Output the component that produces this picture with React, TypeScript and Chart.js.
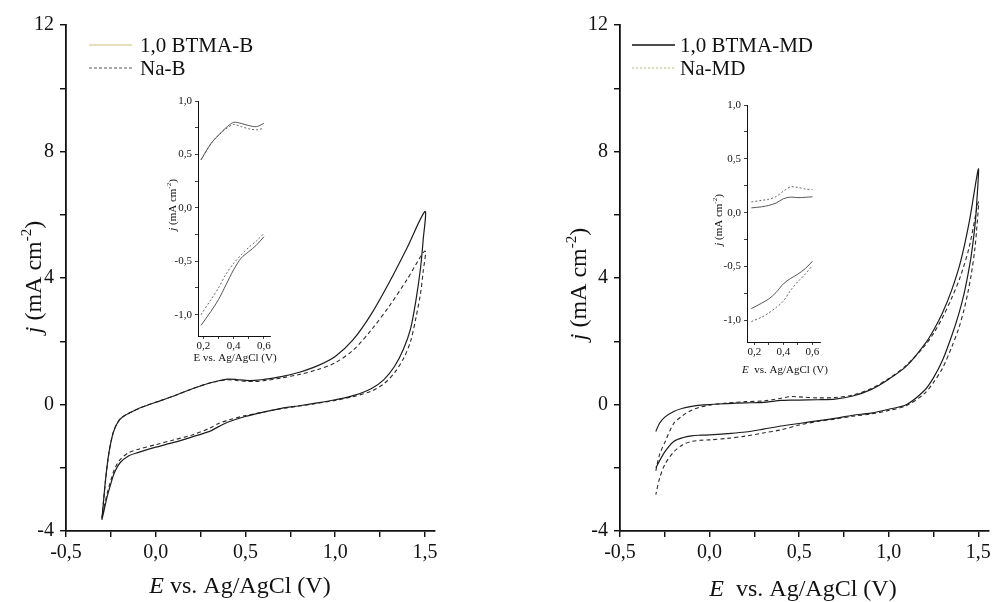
import { useEffect, useRef } from 'react';
import { Chart, registerables } from 'chart.js';

Chart.register(...registerables);

const FONT = '"Liberation Serif", "Times New Roman", serif';

// ---------- Left panel: B ----------
const leftBtmaE = [-0.3, -0.29, -0.28, -0.27, -0.26, -0.25, -0.24, -0.23, -0.22, -0.2, -0.17, -0.15, -0.1, -0.05, 0, 0.1, 0.2, 0.3, 0.35, 0.4, 0.45, 0.5, 0.55, 0.6, 0.7, 0.8, 0.9, 1.0, 1.1, 1.2, 1.3, 1.4, 1.5,
  1.49, 1.475, 1.45, 1.42, 1.38, 1.33, 1.27, 1.2, 1.1, 1.0, 0.9, 0.8, 0.7, 0.6, 0.5, 0.4, 0.35, 0.3, 0.2, 0.1, 0, -0.1, -0.15, -0.2, -0.23, -0.25, -0.27, -0.29, -0.3];
const leftBtmaJ = [-3.65, -3.0, -2.4, -1.9, -1.5, -1.2, -0.95, -0.78, -0.65, -0.47, -0.34, -0.28, -0.14, -0.03, 0.07, 0.27, 0.49, 0.68, 0.75, 0.8, 0.79, 0.76, 0.76, 0.79, 0.88, 1.02, 1.22, 1.52, 2.05, 2.85, 3.85, 4.95, 6.1,
  5.2, 4.3, 3.3, 2.4, 1.75, 1.2, 0.78, 0.5, 0.28, 0.15, 0.05, -0.04, -0.12, -0.24, -0.38, -0.56, -0.7, -0.85, -1.03, -1.2, -1.35, -1.52, -1.62, -1.85, -2.15, -2.5, -2.9, -3.4, -3.65];
const leftNaE = [-0.3, -0.29, -0.28, -0.27, -0.26, -0.25, -0.24, -0.23, -0.22, -0.2, -0.17, -0.15, -0.1, -0.05, 0, 0.1, 0.2, 0.3, 0.35, 0.4, 0.45, 0.5, 0.55, 0.6, 0.7, 0.8, 0.9, 1.0, 1.1, 1.2, 1.3, 1.4, 1.5,
  1.49, 1.475, 1.45, 1.42, 1.38, 1.33, 1.27, 1.2, 1.1, 1.0, 0.9, 0.8, 0.7, 0.6, 0.5, 0.4, 0.35, 0.3, 0.2, 0.1, 0, -0.1, -0.15, -0.2, -0.23, -0.25, -0.27, -0.29, -0.3];
const leftNaJ = [-3.6, -3.0, -2.4, -1.9, -1.5, -1.2, -0.95, -0.78, -0.65, -0.47, -0.34, -0.28, -0.14, -0.03, 0.07, 0.27, 0.49, 0.68, 0.74, 0.78, 0.76, 0.73, 0.73, 0.75, 0.84, 0.95, 1.1, 1.32, 1.72, 2.35, 3.1, 3.95, 4.85,
  4.2, 3.5, 2.75, 2.0, 1.45, 1.0, 0.65, 0.42, 0.25, 0.13, 0.04, -0.05, -0.13, -0.24, -0.35, -0.5, -0.6, -0.75, -0.97, -1.12, -1.27, -1.42, -1.52, -1.75, -2.05, -2.4, -2.8, -3.3, -3.6];

// Left inset
const insetLE = [0.185, 0.25, 0.3, 0.35, 0.4, 0.45, 0.5, 0.55, 0.6];
const insetLBtmaUp = [0.45, 0.6, 0.68, 0.75, 0.8, 0.79, 0.77, 0.76, 0.79];
const insetLNaUp = [0.45, 0.6, 0.68, 0.74, 0.78, 0.76, 0.74, 0.73, 0.745];
const insetLBtmaDown = [-1.1, -0.97, -0.86, -0.72, -0.58, -0.47, -0.41, -0.35, -0.27];
const insetLNaDown = [-1.0, -0.86, -0.75, -0.62, -0.52, -0.44, -0.37, -0.31, -0.24];

// ---------- Right panel: MD ----------
const rightBtmaE = [-0.3, -0.28, -0.25, -0.2, -0.15, -0.1, -0.05, 0, 0.1, 0.2, 0.3, 0.4, 0.45, 0.5, 0.6, 0.7, 0.8, 0.9, 1.0, 1.1, 1.2, 1.25, 1.3, 1.35, 1.4, 1.45, 1.5,
  1.49, 1.48, 1.46, 1.44, 1.42, 1.39, 1.35, 1.3, 1.25, 1.2, 1.1, 1.0, 0.9, 0.8, 0.7, 0.6, 0.5, 0.4, 0.3, 0.2, 0.1, 0, -0.05, -0.1, -0.15, -0.2, -0.25, -0.3];
const rightBtmaJ = [-0.85, -0.6, -0.4, -0.22, -0.12, -0.06, -0.02, 0.0, 0.03, 0.05, 0.07, 0.13, 0.14, 0.14, 0.15, 0.17, 0.27, 0.47, 0.8, 1.22, 1.9, 2.35, 2.9, 3.6, 4.5, 5.8, 7.45,
  6.3, 5.6, 4.7, 4.05, 3.5, 2.85, 2.15, 1.4, 0.85, 0.45, 0.0, -0.15, -0.27, -0.34, -0.44, -0.52, -0.6, -0.68, -0.78, -0.87, -0.92, -0.96, -0.97, -0.99, -1.05, -1.17, -1.5, -2.0];
const rightNaE = [-0.3, -0.28, -0.25, -0.2, -0.15, -0.1, -0.05, 0, 0.1, 0.2, 0.3, 0.35, 0.4, 0.45, 0.5, 0.6, 0.7, 0.8, 0.9, 1.0, 1.1, 1.2, 1.25, 1.3, 1.35, 1.4, 1.45, 1.5,
  1.49, 1.48, 1.46, 1.44, 1.42, 1.39, 1.35, 1.3, 1.25, 1.2, 1.1, 1.0, 0.9, 0.8, 0.7, 0.6, 0.5, 0.4, 0.3, 0.2, 0.1, 0, -0.05, -0.1, -0.15, -0.2, -0.25, -0.28, -0.3];
const rightNaJ = [-2.1, -1.6, -1.2, -0.6, -0.35, -0.18, -0.08, -0.02, 0.05, 0.09, 0.11, 0.15, 0.2, 0.25, 0.24, 0.21, 0.22, 0.3, 0.5, 0.82, 1.25, 1.85, 2.25, 2.75, 3.35, 4.05, 5.0, 6.4,
  5.5, 4.9, 4.1, 3.5, 3.0, 2.4, 1.8, 1.15, 0.7, 0.35, -0.03, -0.19, -0.3, -0.37, -0.46, -0.54, -0.65, -0.8, -0.9, -1.0, -1.07, -1.12, -1.13, -1.17, -1.27, -1.5, -1.9, -2.35, -2.85];

// Right inset
const insetRE = [0.18, 0.25, 0.3, 0.35, 0.4, 0.45, 0.5, 0.55, 0.6];
const insetRBtmaUp = [0.045, 0.055, 0.068, 0.09, 0.13, 0.145, 0.14, 0.143, 0.148];
const insetRNaUp = [0.1, 0.115, 0.125, 0.15, 0.2, 0.24, 0.235, 0.22, 0.215];
const insetRBtmaDown = [-0.89, -0.84, -0.8, -0.74, -0.66, -0.61, -0.57, -0.52, -0.45];
const insetRNaDown = [-1.01, -0.97, -0.93, -0.88, -0.82, -0.72, -0.64, -0.57, -0.49];

const legendLeft = ['1,0 BTMA-B', 'Na-B'];
const legendRight = ['1,0 BTMA-MD', 'Na-MD'];

type Part = { t: string; italic?: boolean; sup?: boolean };
type RichLabel = { x: number; y: number; rot?: boolean; size: number; parts: Part[] };
type LegendItem = { x1: number; x2: number; y: number; tx: number; text: string; color: string; dash: number[]; width: number; size: number };

function drawRich(ctx: CanvasRenderingContext2D, l: RichLabel) {
  const font = (p: Part) => `${p.italic ? 'italic ' : ''}${p.sup ? Math.round(l.size * 0.62) : l.size}px ${FONT}`;
  let w = 0;
  for (const p of l.parts) { ctx.font = font(p); w += ctx.measureText(p.t).width; }
  ctx.save();
  ctx.translate(l.x, l.y);
  if (l.rot) ctx.rotate(-Math.PI / 2);
  ctx.textBaseline = 'alphabetic';
  ctx.textAlign = 'left';
  ctx.fillStyle = '#111';
  let x = -w / 2;
  const base = l.size * 0.33;
  for (const p of l.parts) {
    ctx.font = font(p);
    ctx.fillText(p.t, x, p.sup ? base - l.size * 0.42 : base);
    x += ctx.measureText(p.t).width;
  }
  ctx.restore();
}

function makeDecor(labels: RichLabel[], legend: LegendItem[]) {
  return {
    id: 'decor',
    afterDraw(chart: any) {
      const ctx: CanvasRenderingContext2D = chart.ctx;
      ctx.save();
      for (const l of labels) drawRich(ctx, l);
      for (const it of legend) {
        ctx.save();
        ctx.strokeStyle = it.color;
        ctx.lineWidth = it.width;
        ctx.setLineDash(it.dash);
        ctx.beginPath();
        ctx.moveTo(it.x1, it.y);
        ctx.lineTo(it.x2, it.y);
        ctx.stroke();
        ctx.restore();
        ctx.fillStyle = '#111';
        ctx.font = `${it.size}px ${FONT}`;
        ctx.textBaseline = 'middle';
        ctx.textAlign = 'left';
        ctx.fillText(it.text, it.tx, it.y + 1);
      }
      ctx.restore();
    },
  };
}

const pts = (E: number[], J: number[]) => E.map((e, i) => ({ x: e, y: J[i] }));
const isMult = (v: number, s: number) => Math.abs(v / s - Math.round(v / s)) < 1e-6;
const fmt1 = (v: number) => (Math.abs(v) < 1e-9 ? 0 : v).toFixed(1).replace('.', ',');
const fmt0 = (v: number) => String(Math.round(v));

type Cfg = {
  datasets: any[];
  x: [number, number, number, number];
  y: [number, number, number, number];
  xFmt: (v: number) => string;
  yFmt: (v: number) => string;
  yWidth: number;
  xHeight: number;
  padRight: number;
  padTop: number;
  font: number;
  tickLen: number;
  yPad: number;
  xPad: number;
  border: number;
  labels: RichLabel[];
  legend: LegendItem[];
};

function buildConfig(c: Cfg): any {
  const grid = { display: true, drawOnChartArea: false, drawTicks: true, tickLength: c.tickLen, color: '#111', lineWidth: c.border * 0.8 };
  return {
    type: 'scatter',
    data: { datasets: c.datasets },
    options: {
      animation: false,
      responsive: false,
      maintainAspectRatio: false,
      events: [],
      layout: { padding: { left: 0, right: c.padRight, top: c.padTop, bottom: 0 } },
      plugins: { legend: { display: false }, tooltip: { enabled: false } },
      elements: { point: { radius: 0 } },
      scales: {
        x: {
          type: 'linear', min: c.x[0], max: c.x[1],
          border: { display: true, color: '#111', width: c.border },
          grid,
          ticks: {
            stepSize: c.x[2], includeBounds: false, autoSkip: false, maxRotation: 0, minRotation: 0,
            padding: c.xPad, color: '#111', font: { family: FONT, size: c.font },
            callback: (v: any) => (isMult(Number(v), c.x[3]) ? c.xFmt(Number(v)) : ''),
          },
          afterFit: (s: any) => { s.height = c.xHeight; },
        },
        y: {
          type: 'linear', min: c.y[0], max: c.y[1],
          border: { display: true, color: '#111', width: c.border },
          grid,
          ticks: {
            stepSize: c.y[2], includeBounds: false, autoSkip: false,
            padding: c.yPad, color: '#111', font: { family: FONT, size: c.font },
            callback: (v: any) => (isMult(Number(v), c.y[3]) ? c.yFmt(Number(v)) : ''),
          },
          afterFit: (s: any) => { s.width = c.yWidth; },
        },
      },
    },
    plugins: [makeDecor(c.labels, c.legend)],
  };
}

const solid = (label: string, data: any[], color: string, w: number) => ({
  label, data, showLine: true, borderColor: color, backgroundColor: color, borderWidth: w, pointRadius: 0, tension: 0.3, fill: false,
});
const dashed = (label: string, data: any[], color: string, w: number, dash: number[]) => ({
  ...solid(label, data, color, w), borderDash: dash,
});

const yTitle = (x: number, y: number, size: number): RichLabel => ({
  x, y, rot: true, size,
  parts: [{ t: 'j', italic: true }, { t: ' (mA cm' }, { t: '-2', sup: true }, { t: ')' }],
});

function useChart(ref: React.RefObject<HTMLCanvasElement | null>, make: () => any) {
  useEffect(() => {
    if (!ref.current) return;
    const ch = new Chart(ref.current, make());
    return () => ch.destroy();
  }, []);
}

export default function App() {
  const mainL = useRef<HTMLCanvasElement>(null);
  const mainR = useRef<HTMLCanvasElement>(null);
  const insL = useRef<HTMLCanvasElement>(null);
  const insR = useRef<HTMLCanvasElement>(null);

  useChart(mainL, () => buildConfig({
    datasets: [
      solid(legendLeft[0], pts(leftBtmaE, leftBtmaJ), '#1c1c1c', 1.2),
      dashed(legendLeft[1], pts(leftNaE, leftNaJ), '#2a2a2a', 1.1, [4, 3]),
    ],
    x: [-0.5, 1.556, 0.25, 0.5], y: [-4, 12, 2, 4], xFmt: fmt1, yFmt: fmt0,
    yWidth: 66, xHeight: 71, padRight: 55, padTop: 25, font: 20, tickLen: 6, yPad: 6, xPad: 4, border: 1.8,
    labels: [
      yTitle(33, 277, 24),
      { x: 240, y: 585, size: 24, parts: [{ t: 'E', italic: true }, { t: ' vs. Ag/AgCl (V)' }] },
    ],
    legend: [
      { x1: 89, x2: 132, y: 45, tx: 140, text: legendLeft[0], color: '#e2d3a4', dash: [], width: 1.3, size: 21 },
      { x1: 89, x2: 132, y: 68, tx: 140, text: legendLeft[1], color: '#555', dash: [3, 2], width: 1.2, size: 21 },
    ],
  }));

  useChart(mainR, () => buildConfig({
    datasets: [
      solid(legendRight[0], pts(rightBtmaE, rightBtmaJ), '#1c1c1c', 1.2),
      dashed(legendRight[1], pts(rightNaE, rightNaJ), '#2a2a2a', 1.1, [4, 3]),
    ],
    x: [-0.5, 1.556, 0.25, 0.5], y: [-4, 12, 2, 4], xFmt: fmt1, yFmt: fmt0,
    yWidth: 125, xHeight: 71, padRight: 5, padTop: 25, font: 20, tickLen: 6, yPad: 6, xPad: 4, border: 1.8,
    labels: [
      yTitle(83, 284, 24),
      { x: 308, y: 588, size: 24, parts: [{ t: 'E', italic: true }, { t: '  vs. Ag/AgCl (V)' }] },
    ],
    legend: [
      { x1: 137, x2: 180, y: 45, tx: 185, text: legendRight[0], color: '#111', dash: [], width: 1.6, size: 21 },
      { x1: 137, x2: 180, y: 68, tx: 185, text: legendRight[1], color: '#c9cf98', dash: [2, 2], width: 1.4, size: 21 },
    ],
  }));

  useChart(insL, () => buildConfig({
    datasets: [
      solid(legendLeft[0], pts(insetLE, insetLBtmaUp), '#444', 0.9),
      dashed(legendLeft[1], pts(insetLE, insetLNaUp), '#555', 0.9, [2, 2]),
      solid(legendLeft[0], pts(insetLE, insetLBtmaDown), '#444', 0.9),
      dashed(legendLeft[1], pts(insetLE, insetLNaDown), '#555', 0.9, [2, 2]),
    ],
    x: [0.165, 0.64, 0.1, 0.2], y: [-1.2, 1.0, 0.25, 0.5], xFmt: fmt1, yFmt: fmt1,
    yWidth: 48, xHeight: 44, padRight: 20, padTop: 21, font: 11, tickLen: 3, yPad: 3, xPad: 1, border: 1,
    labels: [
      yTitle(22, 125, 11),
      { x: 85, y: 277, size: 11, parts: [{ t: 'E vs. Ag/AgCl (V)' }] },
    ],
    legend: [],
  }));

  useChart(insR, () => buildConfig({
    datasets: [
      solid(legendRight[0], pts(insetRE, insetRBtmaUp), '#444', 0.9),
      dashed(legendRight[1], pts(insetRE, insetRNaUp), '#555', 0.9, [2, 2]),
      solid(legendRight[0], pts(insetRE, insetRBtmaDown), '#444', 0.9),
      dashed(legendRight[1], pts(insetRE, insetRNaDown), '#555', 0.9, [2, 2]),
    ],
    x: [0.15, 0.652, 0.1, 0.2], y: [-1.2, 1.0, 0.25, 0.5], xFmt: fmt1, yFmt: fmt1,
    yWidth: 57, xHeight: 43, padRight: 15, padTop: 20, font: 11, tickLen: 3, yPad: 3, xPad: 1, border: 1,
    labels: [
      yTitle(28, 135, 11),
      { x: 95, y: 284, size: 11, parts: [{ t: 'E', italic: true }, { t: '  vs. Ag/AgCl (V)' }] },
    ],
    legend: [],
  }));

  const abs = (l: number, t: number, w: number, h: number): React.CSSProperties => ({
    position: 'absolute', left: l, top: t, width: w, height: h,
  });

  return (
    <div style={{ position: 'absolute', left: 0, top: 0, width: 995, height: 602, background: '#fff', overflow: 'hidden' }}>
      <canvas ref={mainL} width={490} height={602} style={abs(0, 0, 490, 602)} />
      <canvas ref={mainR} width={500} height={602} style={abs(495, 0, 500, 602)} />
      <canvas ref={insL} width={140} height={300} style={abs(150, 80, 140, 300)} />
      <canvas ref={insR} width={145} height={300} style={abs(690, 85, 145, 300)} />
    </div>
  );
}
